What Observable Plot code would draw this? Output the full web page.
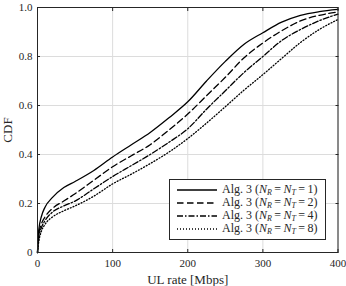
<!DOCTYPE html>
<html>
<head>
<meta charset="utf-8">
<script src="https://cdn.jsdelivr.net/npm/d3@7"></script>
<script src="https://cdn.jsdelivr.net/npm/@observablehq/plot@0.6"></script>
<style>
  html, body { margin: 0; padding: 0; background: #fff; }
  #wrap { position: relative; width: 346px; height: 286px; font-family: "Liberation Serif", serif; }
  #wrap svg text { font-family: "Liberation Serif", serif; }
  #legend { position: absolute; left: 169px; top: 179px; width: 155px; height: 59px;
    border: 1px solid #262626; background: #fff; font-size: 12px; color: #262626; }
  .row { position: absolute; left: 6px; height: 13px; display: flex; align-items: center; white-space: nowrap; }
  .row svg { margin-right: 4px; }
  sub { font-size: 8px; vertical-align: -2px; font-style: italic; }
</style>
</head>
<body>
<div id="wrap"></div>
<script>
const xVals = [0,1,2,5,10,20,35,50,75,100,125,150,175,200,225,250,275,300,325,350,375,400];
const cdf1 = [0,0.07,0.10,0.145,0.185,0.225,0.265,0.29,0.335,0.39,0.44,0.49,0.55,0.615,0.70,0.78,0.85,0.897,0.94,0.968,0.983,0.992];
const cdf2 = [0,0.05,0.08,0.115,0.145,0.18,0.21,0.24,0.295,0.35,0.395,0.44,0.50,0.565,0.64,0.715,0.795,0.855,0.905,0.945,0.968,0.982];
const cdf4 = [0,0.04,0.065,0.10,0.13,0.165,0.19,0.21,0.26,0.31,0.355,0.40,0.45,0.505,0.585,0.66,0.735,0.80,0.865,0.91,0.946,0.973];
const cdf8 = [0,0.03,0.05,0.085,0.115,0.145,0.17,0.19,0.23,0.28,0.32,0.363,0.41,0.465,0.528,0.595,0.663,0.726,0.792,0.857,0.91,0.951];
const seriesN = [1, 2, 4, 8];
const seriesVals = [cdf1, cdf2, cdf4, cdf8];
const dashes = ["none", "6.5,3.5", "6,2,1.5,2", "1,2"];
const xTicks = [0,100,200,300,400];
const yTicks = [0,0.2,0.4,0.6,0.8,1.0];
const yTickLabels = ["0","0.2","0.4","0.6","0.8","1.0"];

const ink = "#262626";
const lineMarks = seriesVals.map((vals, i) =>
  Plot.line(xVals.map((x, j) => ({x, y: vals[j]})), {
    x: "x", y: "y", stroke: "black", strokeWidth: 1.3,
    strokeDasharray: dashes[i] === "none" ? null : dashes[i], curve: "monotone-x"
  })
);

const chart = Plot.plot({
  width: 346, height: 286,
  marginLeft: 37, marginRight: 8.5, marginTop: 7, marginBottom: 34,
  style: { fontFamily: "Liberation Serif, serif", fontSize: "11px", color: ink, background: "white" },
  x: { domain: [0, 400] },
  y: { domain: [0, 1] },
  marks: [
    Plot.gridX(xTicks, { stroke: "#dcdcdc", strokeOpacity: 1 }),
    Plot.gridY(yTicks, { stroke: "#dcdcdc", strokeOpacity: 1 }),
    ...lineMarks,
    Plot.axisX({ ticks: xTicks, tickSize: 0, tickPadding: 7, fontSize: 11, label: null }),
    Plot.axisX({ ticks: [], tickSize: 0, label: "UL rate [Mbps]", labelAnchor: "center", labelArrow: "none", labelOffset: 31, fontSize: 13 }),
    Plot.axisX({ anchor: "bottom", ticks: xTicks, tickSize: -3, tickFormat: () => "", label: null, stroke: ink }),
    Plot.axisX({ anchor: "top", ticks: xTicks, tickSize: -3, tickFormat: () => "", label: null, stroke: ink }),
    Plot.axisY({ ticks: yTicks, tickSize: 0, tickPadding: 5, tickFormat: (d, i) => yTickLabels[i], fontSize: 11, label: null }),
    Plot.axisY({ ticks: [], tickSize: 0, label: "CDF", labelAnchor: "center", labelArrow: "none", labelOffset: 35, fontSize: 13 }),
    Plot.axisY({ anchor: "left", ticks: yTicks, tickSize: -3, tickFormat: () => "", label: null, stroke: ink }),
    Plot.axisY({ anchor: "right", ticks: yTicks, tickSize: -3, tickFormat: () => "", label: null, stroke: ink }),
    Plot.frame({ stroke: ink, strokeWidth: 1 })
  ]
});
const wrap = document.getElementById("wrap");
wrap.appendChild(chart);

const legend = document.createElement("div");
legend.id = "legend";
seriesN.forEach((n, i) => {
  const row = document.createElement("div");
  row.className = "row";
  row.style.top = (3 + i * 13) + "px";
  const da = dashes[i] === "none" ? "" : `stroke-dasharray="${dashes[i]}"`;
  row.innerHTML = `<svg width="42" height="6"><line x1="1" y1="3" x2="41" y2="3" stroke="black" stroke-width="1.3" ${da}/></svg>` +
    `<span>Alg. 3 (<i>N</i><sub>R</sub>\u2009=\u2009<i>N</i><sub>T</sub>\u2009=\u2009${n})</span>`;
  legend.appendChild(row);
});
wrap.appendChild(legend);
</script>
</body>
</html>
